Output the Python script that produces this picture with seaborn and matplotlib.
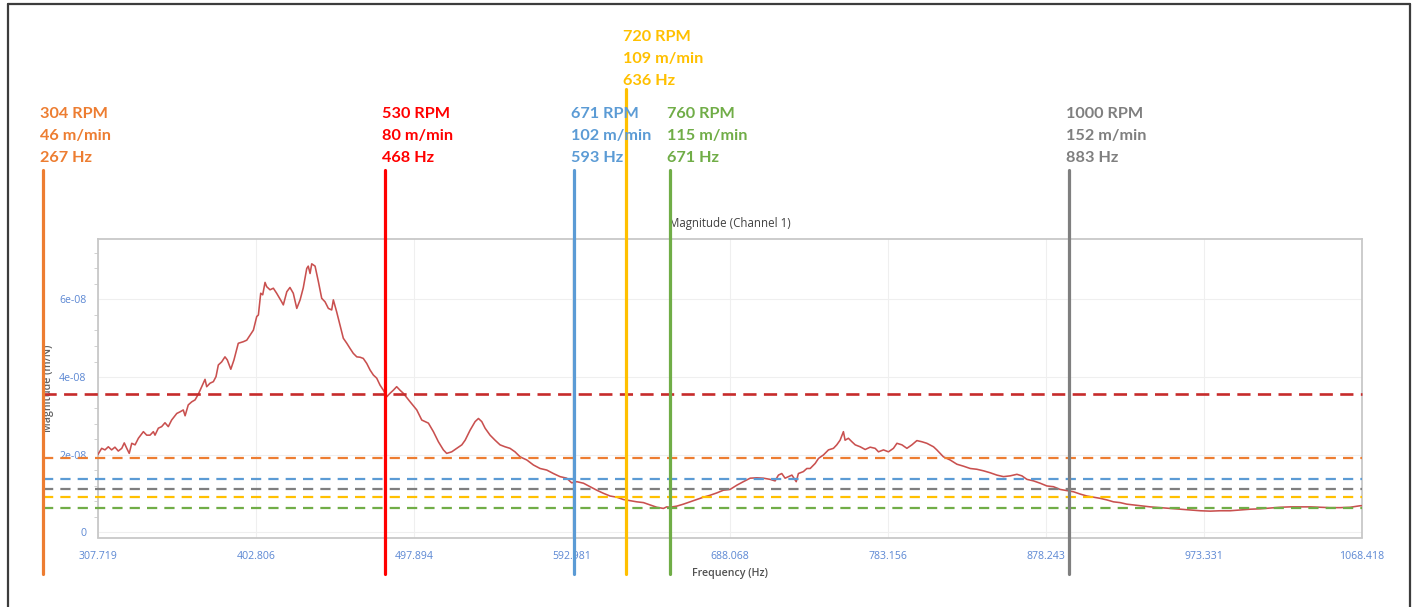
import matplotlib
matplotlib.use("Agg")
import matplotlib.pyplot as plt
import matplotlib.transforms as mtransforms
from matplotlib.lines import Line2D
from matplotlib.ticker import MultipleLocator, FixedLocator, FixedFormatter
import seaborn as sns
import pandas as pd
import numpy as np

# ---------------- data ----------------
freq_hz = [
    307.7, 310.1, 312.1, 314.1, 316.1, 318.1, 320.1, 322.2, 323.7, 325.2,
    326.7, 328.2, 330.2, 332.2, 335.2, 337.2, 339.2, 341.2, 342.2, 344.2,
    346.2, 348.2, 350.2, 352.2, 355.3, 357.2, 359.2, 360.3, 362.2, 364.3,
    366.3, 368.3, 370.3, 372.3, 373.3, 375.3, 377.3, 378.9, 380.3, 382.3,
    384.3, 385.7, 387.8, 389.7, 392.3, 395.3, 397.4, 399.4, 401.4, 403.4,
    404.4, 405.8, 407.0, 408.4, 409.4, 411.4, 413.4, 415.4, 418.4, 419.4,
    421.5, 423.4, 425.4, 427.5, 429.5, 431.4, 433.5, 434.4, 435.5, 436.5,
    438.5, 440.5, 442.5, 444.5, 446.5, 448.5, 449.5, 451.5, 453.5, 455.5,
    457.6, 459.5, 461.5, 463.6, 465.6, 467.5, 469.6, 471.6, 473.6, 475.6,
    477.6, 479.6, 481.6, 483.6, 485.6, 487.6, 489.6, 491.6, 495.7, 499.7,
    502.7, 504.7, 506.7, 509.7, 512.7, 515.7, 517.7, 520.7, 523.8, 526.8,
    528.8, 531.8, 534.8, 536.8, 538.8, 540.8, 543.8, 546.8, 549.8, 552.8,
    555.8, 558.8, 561.9, 565.9, 569.9, 573.9, 577.9, 581.9, 585.9, 589.9,
    592.9, 596.0, 600.0, 604.0, 608.0, 612.0, 616.0, 620.0, 624.0, 628.0,
    632.1, 636.1, 640.1, 644.1, 648.1, 650.1, 652.1, 656.2, 660.1, 664.2,
    668.2, 672.2, 676.2, 680.2, 684.2, 688.2, 692.3, 696.2, 700.3, 704.3,
    708.3, 712.3, 715.3, 717.3, 719.3, 721.3, 723.3, 725.4, 728.0, 729.3,
    732.3, 734.4, 736.4, 739.4, 741.4, 744.4, 747.4, 750.4, 752.4, 754.4,
    756.4, 757.4, 759.4, 761.5, 763.5, 766.5, 769.5, 772.5, 775.5, 777.5,
    780.5, 783.5, 786.5, 788.6, 791.6, 794.6, 797.6, 800.6, 803.6, 806.6,
    810.6, 812.6, 816.6, 820.6, 824.7, 828.6, 832.7, 836.7, 840.7, 844.7,
    848.7, 852.7, 856.7, 860.8, 863.8, 866.8, 870.8, 874.8, 878.8, 882.8,
    886.8, 890.9, 894.8, 898.9, 902.9, 906.9, 910.9, 914.9, 918.9, 922.9,
    926.9, 930.9, 935.0, 941.0, 947.0, 953.0, 959.0, 965.1, 971.1, 977.1,
    983.1, 989.1, 995.2, 1001.2, 1007.2, 1013.2, 1019.2, 1025.2, 1031.3, 1037.3,
    1043.3, 1049.3, 1055.3, 1061.3, 1067.4, 1068.4,
]
# magnitude in units of 1e-8 m/N
magnitude_e8 = [
    1.99, 2.16, 2.12, 2.20, 2.12, 2.19, 2.09, 2.16, 2.30, 2.16,
    2.03, 2.29, 2.25, 2.42, 2.59, 2.50, 2.50, 2.59, 2.50, 2.68,
    2.72, 2.82, 2.72, 2.89, 3.06, 3.10, 3.15, 3.00, 3.28, 3.36,
    3.41, 3.56, 3.75, 3.94, 3.75, 3.84, 3.88, 4.01, 4.31, 4.39,
    4.52, 4.44, 4.20, 4.44, 4.87, 4.91, 4.95, 5.08, 5.21, 5.56,
    5.60, 6.16, 6.12, 6.44, 6.33, 6.25, 6.29, 6.16, 5.94, 5.86,
    6.20, 6.31, 6.16, 5.77, 5.99, 6.30, 6.80, 6.86, 6.67, 6.92,
    6.86, 6.46, 6.03, 5.94, 5.77, 5.73, 5.99, 5.68, 5.34, 5.00,
    4.87, 4.74, 4.61, 4.52, 4.51, 4.48, 4.35, 4.18, 4.05, 3.97,
    3.79, 3.66, 3.49, 3.58, 3.66, 3.75, 3.66, 3.58, 3.36, 3.15,
    2.89, 2.85, 2.81, 2.59, 2.33, 2.12, 2.03, 2.07, 2.16, 2.25,
    2.37, 2.63, 2.85, 2.93, 2.85, 2.68, 2.50, 2.37, 2.25, 2.20,
    2.16, 2.07, 1.94, 1.86, 1.73, 1.64, 1.60, 1.51, 1.43, 1.39,
    1.27, 1.30, 1.26, 1.17, 1.08, 1.00, 0.93, 0.90, 0.84, 0.81,
    0.78, 0.76, 0.70, 0.64, 0.61, 0.65, 0.64, 0.67, 0.72, 0.78,
    0.84, 0.90, 0.95, 1.01, 1.08, 1.10, 1.21, 1.30, 1.39, 1.40,
    1.39, 1.36, 1.32, 1.47, 1.51, 1.39, 1.43, 1.47, 1.30, 1.51,
    1.56, 1.64, 1.64, 1.77, 1.90, 1.99, 2.12, 2.16, 2.25, 2.37,
    2.59, 2.37, 2.42, 2.33, 2.25, 2.20, 2.13, 2.19, 2.16, 2.07,
    2.12, 2.07, 2.16, 2.29, 2.25, 2.16, 2.25, 2.36, 2.33, 2.29,
    2.20, 2.12, 1.94, 1.86, 1.75, 1.70, 1.64, 1.62, 1.58, 1.53,
    1.47, 1.43, 1.45, 1.49, 1.45, 1.36, 1.32, 1.26, 1.19, 1.17,
    1.10, 1.07, 1.04, 0.98, 0.93, 0.90, 0.87, 0.83, 0.78, 0.76,
    0.72, 0.70, 0.68, 0.65, 0.63, 0.61, 0.59, 0.57, 0.55, 0.54,
    0.55, 0.55, 0.57, 0.59, 0.60, 0.62, 0.64, 0.65, 0.65, 0.65,
    0.64, 0.63, 0.63, 0.64, 0.68, 0.68,
]

x_ticks = [307.719, 402.806, 497.894, 592.981, 688.068, 783.156, 878.243, 973.331, 1068.418]
x_tick_labels = ["307.719", "402.806", "497.894", "592.981", "688.068",
                 "783.156", "878.243", "973.331", "1068.418"]
y_ticks = [0, 2e-08, 4e-08, 6e-08]
y_tick_labels = ["0", "2e-08", "4e-08", "6e-08"]

# threshold levels (dashed), in 1e-8 m/N
threshold_levels_e8 = [3.55, 1.91, 1.375, 1.11, 0.90, 0.62]
threshold_colors = ["#c62b2b", "#ed7d31", "#5b9bd5", "#7f7f7f", "#ffc000", "#70ad47"]

# speed markers
marker_rpm = ["304 RPM", "530 RPM", "671 RPM", "720 RPM", "760 RPM", "1000 RPM"]
marker_speed = ["46 m/min", "80 m/min", "102 m/min", "109 m/min", "115 m/min", "152 m/min"]
marker_freq_label = ["267 Hz", "468 Hz", "593 Hz", "636 Hz", "671 Hz", "883 Hz"]
marker_x_hz = [274.8, 480.6, 594.3, 625.6, 652.1, 892.2]
marker_colors = ["#ed7d31", "#ff0000", "#5b9bd5", "#ffc000", "#70ad47", "#7f7f7f"]
marker_raised = [False, False, False, True, False, False]

# ---------------- figure ----------------
W, H = 1418, 607
sns.set_style("white")
plt.rcParams["font.family"] = ["Open Sans", "DejaVu Sans"]

fig = plt.figure(figsize=(W / 100, H / 100), dpi=100)
ax_left, ax_right, ax_top, ax_bottom = 97.7, 1362.0, 239.0, 537.5
ax = fig.add_axes([ax_left / W, 1 - ax_bottom / H, (ax_right - ax_left) / W, (ax_bottom - ax_top) / H])

df = pd.DataFrame({"Frequency (Hz)": freq_hz,
                   "Magnitude (m/N)": np.array(magnitude_e8) * 1e-8})
sns.lineplot(data=df, x="Frequency (Hz)", y="Magnitude (m/N)", ax=ax,
             color="#c9504f", lw=1.15, zorder=3)

ax.set_xlim(307.719, 1068.418)
ax.set_ylim(-0.14e-8, 7.56e-8)

ax.xaxis.set_major_locator(FixedLocator(x_ticks))
ax.xaxis.set_major_formatter(FixedFormatter(x_tick_labels))
ax.yaxis.set_major_locator(FixedLocator(y_ticks))
ax.yaxis.set_major_formatter(FixedFormatter(y_tick_labels))
ax.yaxis.set_minor_locator(MultipleLocator(0.4e-8))

ax.grid(True, which="major", color="#efefef", lw=0.8)
ax.set_axisbelow(True)
for s in ax.spines.values():
    s.set_color("#c8c8c8")
    s.set_linewidth(1.3)

ax.tick_params(axis="both", which="major", direction="out", length=5, width=0.8,
               color="#c8c8c8", labelcolor="#5b87d3", labelsize=7.6)
ax.tick_params(axis="x", pad=5)
ax.tick_params(axis="y", pad=3)
ax.tick_params(axis="y", which="minor", direction="out", length=3, width=0.7, color="#d0d0d0", left=True)

ax.set_title("Magnitude (Channel 1)", fontsize=8.3, color="#404040", pad=9)
ax.set_xlabel("Frequency (Hz)", fontsize=7.7, color="#505050", fontweight="semibold")
ax.set_ylabel("Magnitude (m/N)", fontsize=7.7, color="#606060", fontweight="semibold")
ax.xaxis.set_label_coords(0.5, -(568 - ax_bottom) / (ax_bottom - ax_top))
ax.yaxis.set_label_coords(-(ax_left - 54) / (ax_right - ax_left), 0.5)

# dashed threshold lines (start at the first marker, end at plot right)
x_start = marker_x_hz[0]
for lvl, c in zip(threshold_levels_e8, threshold_colors):
    lw = 1.9 if c == "#c62b2b" else 1.6
    dash = (5.0, 2.8) if c == "#c62b2b" else (4.6, 3.2)
    ax.plot([x_start, 1068.418], [lvl * 1e-8, lvl * 1e-8], color=c, lw=lw,
            dashes=dash, clip_on=False, zorder=4)

# vertical speed markers with labels
def yfrac(py):
    return (ax_bottom - py) / (ax_bottom - ax_top)

trans = mtransforms.blended_transform_factory(ax.transData, ax.transAxes)
text_shift = mtransforms.ScaledTranslation(-3 / 100, 0, fig.dpi_scale_trans)
for i in range(len(marker_x_hz)):
    x = marker_x_hz[i]
    c = marker_colors[i]
    top_px = 89 if marker_raised[i] else 170
    ax.axvline(x, ymin=yfrac(574), ymax=yfrac(top_px), color=c, lw=2.3,
               clip_on=False, zorder=5)
    line_centers = [37, 59, 81] if marker_raised[i] else [114, 136, 158]
    for txt, py in zip([marker_rpm[i], marker_speed[i], marker_freq_label[i]], line_centers):
        ax.text(x, yfrac(py), txt, transform=trans + text_shift, color=c,
                fontsize=11.7, fontweight="bold", family=["Lato", "DejaVu Sans"],
                ha="left", va="center", clip_on=False, zorder=6)

# outer frame (left, top, right)
fc = "#3c3c3c"
fig.add_artist(Line2D([8 / W, 8 / W], [0, 1 - 4 / H], transform=fig.transFigure, color=fc, lw=1.6))
fig.add_artist(Line2D([8 / W, 1410 / W], [1 - 4 / H, 1 - 4 / H], transform=fig.transFigure, color=fc, lw=1.6))
fig.add_artist(Line2D([1410 / W, 1410 / W], [0, 1 - 4 / H], transform=fig.transFigure, color=fc, lw=1.6))

fig.savefig("out.png", dpi=100)
